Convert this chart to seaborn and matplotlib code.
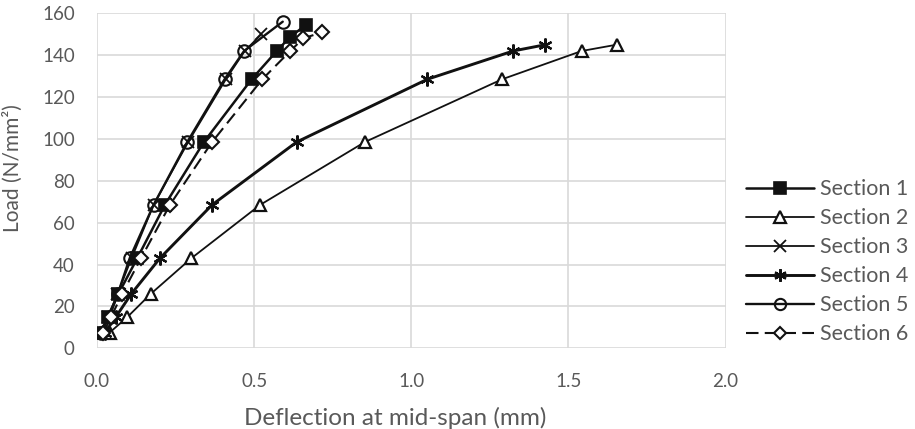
import matplotlib
matplotlib.use("Agg")
import matplotlib.pyplot as plt
import seaborn as sns
import pandas as pd
from matplotlib.lines import Line2D

# ---- data ----
s1_x = [0.013, 0.034, 0.068, 0.128, 0.216, 0.340, 0.492, 0.572, 0.613, 0.665]
s1_y = [7.5, 15, 26, 43, 68.5, 98.5, 128.5, 142, 148.5, 154.5]
s2_x = [0.040, 0.097, 0.171, 0.300, 0.519, 0.852, 1.289, 1.542, 1.653]
s2_y = [7.5, 15, 26, 43, 68.5, 98.5, 128.5, 142, 145]
s3_x = [0.010, 0.035, 0.065, 0.110, 0.180, 0.290, 0.410, 0.470, 0.523]
s3_y = [7.5, 15, 26, 43, 68.5, 98.5, 128.5, 142, 150]
s4_x = [0.025, 0.060, 0.109, 0.200, 0.366, 0.635, 1.051, 1.324, 1.427]
s4_y = [7.5, 15, 26, 43, 68.5, 98.5, 128.5, 142, 145]
s5_x = [0.012, 0.040, 0.066, 0.104, 0.180, 0.287, 0.406, 0.468, 0.591]
s5_y = [7.5, 15, 26, 43, 68.5, 98.5, 128.5, 142, 156]
s6_x = [0.020, 0.045, 0.080, 0.140, 0.232, 0.366, 0.526, 0.615, 0.656, 0.717]
s6_y = [7.5, 15, 26, 43, 68.5, 98.5, 128.5, 142, 148, 151]

series_names = ["Section 1", "Section 2", "Section 3", "Section 4", "Section 5", "Section 6"]
x_ticks = [0.0, 0.5, 1.0, 1.5, 2.0]
y_ticks = [0, 20, 40, 60, 80, 100, 120, 140, 160]
x_label = "Deflection at mid-span (mm)"
y_label = "Load (N/mm²)"

series = [(s1_x, s1_y), (s2_x, s2_y), (s3_x, s3_y), (s4_x, s4_y), (s5_x, s5_y), (s6_x, s6_y)]

# ---- styles ----
styles = [
    dict(marker="s", ms=9, mfc="#111111", mew=1.2, lw=1.8, ls="-"),
    dict(marker="^", ms=9, mfc="white", mew=1.6, lw=1.3, ls="-"),
    dict(marker="x", ms=9, mfc="none", mew=1.3, lw=1.3, ls="-"),
    dict(marker=(6, 2, 0), ms=10, mfc="none", mew=1.6, lw=2.1, ls="-"),
    dict(marker="o", ms=9, mfc="none", mew=1.5, lw=1.7, ls="-"),
    dict(marker="D", ms=7, mfc="white", mew=1.5, lw=1.5, ls=(0, (6, 3))),
]

sns.set_theme(style="white")
plt.rcParams["font.family"] = ["Lato", "DejaVu Sans"]
text_color = "#595959"
grid_color = "#d9d9d9"

fig = plt.figure(figsize=(9.15, 4.29), dpi=100)
ax = fig.add_axes([0.106, 0.188, 0.687, 0.781])

handles = []
for name, (xs, ys), st in zip(series_names, series, styles):
    df = pd.DataFrame({"x": xs, "y": ys})
    sns.lineplot(data=df, x="x", y="y", ax=ax, sort=False, color="#111111",
                 marker=st["marker"], markersize=st["ms"], markerfacecolor=st["mfc"],
                 markeredgecolor="#111111", markeredgewidth=st["mew"],
                 linewidth=st["lw"], estimator=None, zorder=3)
    ln = ax.lines[-1]
    ln.set_linestyle(st["ls"])
    handles.append(Line2D([], [], color="#111111", marker=st["marker"], markersize=st["ms"] * 0.9,
                          markerfacecolor=st["mfc"], markeredgecolor="#111111",
                          markeredgewidth=st["mew"], linewidth=st["lw"], linestyle=st["ls"]))

ax.set_xlim(0, 2.0)
ax.set_ylim(0, 160)
ax.set_xticks(x_ticks)
ax.set_xticklabels([f"{v:.1f}" for v in x_ticks])
ax.set_yticks(y_ticks)
ax.set_yticklabels([str(v) for v in y_ticks])
ax.grid(True, color=grid_color, linewidth=1.2, zorder=0)
ax.set_axisbelow(True)
for sp in ax.spines.values():
    sp.set_visible(False)
ax.tick_params(axis="x", length=0, pad=18, labelsize=13.5, labelcolor=text_color)
ax.tick_params(axis="y", length=0, pad=16, labelsize=13.5, labelcolor=text_color)
ax.set_xlabel(x_label, fontsize=17.5, color=text_color)
ax.set_ylabel(y_label, fontsize=15, color=text_color)
ax.xaxis.set_label_coords(0.475, -0.175)
ax.yaxis.set_label_coords(-0.118, 0.538)

leg = fig.legend(handles, series_names, loc="center left", bbox_to_anchor=(0.815, 0.39),
                 frameon=False, fontsize=15.5, labelcolor=text_color, handlelength=3.15,
                 handletextpad=0.3, labelspacing=0.42, borderpad=0, borderaxespad=0)

fig.savefig("out.png", dpi=100)
